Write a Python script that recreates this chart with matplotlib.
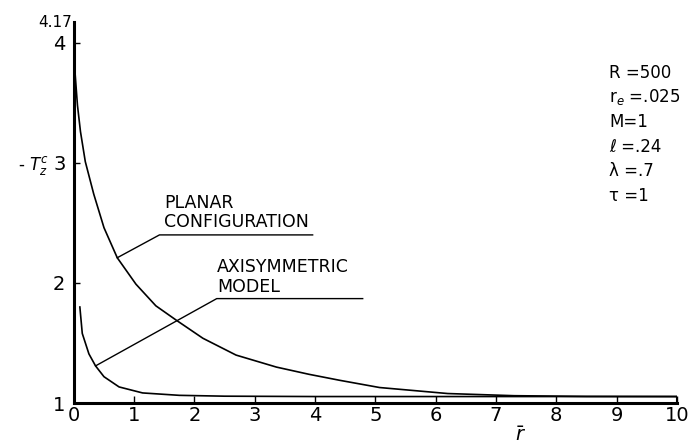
import numpy as np
import matplotlib
matplotlib.use("Agg")
import matplotlib.pyplot as plt

plt.rcParams['font.family'] = ['DejaVu Sans']
plt.rcParams['mathtext.fontset'] = 'dejavusans'

# values
r_planar = [0.0, 0.02, 0.06, 0.11, 0.19, 0.33, 0.5, 0.72, 1.03, 1.36, 1.70,
            2.14, 2.69, 3.36, 3.9, 4.41, 5.07, 6.2, 7.3, 8.5, 10.0]
T_planar = [4.17, 3.75, 3.48, 3.26, 3.01, 2.74, 2.46, 2.21, 1.99, 1.81, 1.69,
            1.54, 1.40, 1.30, 1.24, 1.19, 1.13, 1.08, 1.062, 1.056, 1.055]

r_axi = [0.1, 0.14, 0.25, 0.36, 0.5, 0.75, 1.14, 1.75, 2.5, 4.0, 10.0]
T_axi = [1.80, 1.58, 1.41, 1.31, 1.22, 1.135, 1.085, 1.065, 1.058, 1.055, 1.055]

x_ticks = list(range(0, 11))
y_ticks = [1, 2, 3, 4]

params = ["R =500", r"r$_e$ =.025", "M=1", "\u2113 =.24", "\u03bb =.7", "\u03c4 =1"]

# leader lines: curve point -> bend -> end of underline
planar_leader = ([0.72, 1.42, 3.96], [2.21, 2.40, 2.40])
axi_leader = ([0.36, 2.37, 4.79], [1.31, 1.87, 1.87])

fig = plt.figure(figsize=(6.9, 4.44), dpi=100)
ax = fig.add_axes([0.107, 0.092, 0.874, 0.858])

ax.plot(r_planar, T_planar, color="black", lw=1.2)
ax.plot(r_axi, T_axi, color="black", lw=1.2)
ax.plot(*planar_leader, color="black", lw=1.0)
ax.plot(*axi_leader, color="black", lw=1.0)
# closed right end of the bottom rail
ax.plot([10, 10], [1, T_axi[-1]], color="black", lw=1.5)

ax.text(1.5, 2.43, "PLANAR\nCONFIGURATION", fontsize=12.5, ha="left", va="bottom",
        linespacing=1.1)
ax.text(2.38, 1.895, "AXISYMMETRIC\nMODEL", fontsize=12.5, ha="left", va="bottom",
        linespacing=1.1)

y0 = 3.75
for i, p in enumerate(params):
    ax.text(8.88, y0 - i * 0.205, p, fontsize=12, ha="left", va="center")

ax.set_xlim(0, 10)
ax.set_ylim(1, 4.17)
ax.set_xticks(x_ticks)
ax.set_yticks(y_ticks)
ax.tick_params(axis="x", direction="in", length=5, width=1, labelsize=14, pad=2)
ax.tick_params(axis="y", direction="in", length=4, width=1, labelsize=14, pad=6)
ax.text(-0.03, 4.17, "4.17", fontsize=11, ha="right", va="center")

for s in ["top", "right"]:
    ax.spines[s].set_visible(False)
ax.spines["left"].set_linewidth(2.2)
ax.spines["bottom"].set_linewidth(2.2)

ax.text(-0.93, 2.98, r"- $T_z^c$", fontsize=12, ha="left", va="center")
ax.text(7.4, 0.73, r"$\bar{r}$", fontsize=14, ha="center", va="center")

fig.savefig("out.png", dpi=100)
